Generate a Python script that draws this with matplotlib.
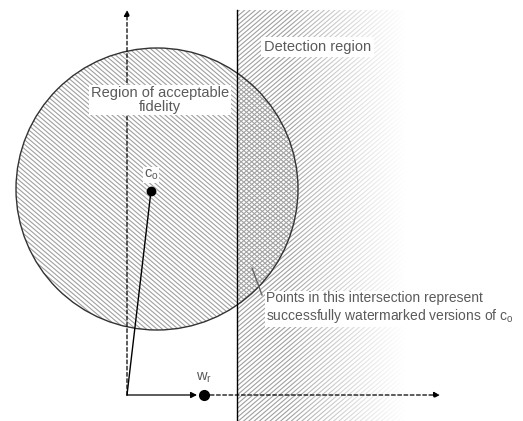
import numpy as np
import matplotlib.pyplot as plt
from matplotlib.patches import Circle, Rectangle
from matplotlib.collections import LineCollection

plt.rcParams['font.family'] = ['Liberation Sans', 'DejaVu Sans']

# geometry of the diagram, in pixels of the 523x421 image (y grows downward)
origin = (127, 395)
c0 = (151, 191)
wr = (204, 395)
circle_centre = (157, 189)
circle_radius = 141
boundary_x = 237
axis_top = 10
axis_right = 440

labels = {
    'detect': 'Detection region',
    'fidelity': 'Region of acceptable\nfidelity',
    'points': 'Points in this intersection represent\nsuccessfully watermarked versions of $\\mathregular{c_o}$',
}

txt_col = '#5a5a5a'
hatch_col = '#a0a0a0'


def hatch_lines(slope, step):
    # diagonal stripes covering the whole image, step = horizontal spacing
    xa, xb = -50, 600
    segs = []
    for b in np.arange(-800, 1200, step * abs(slope)):
        segs.append([(xa, b + slope * xa), (xb, b + slope * xb)])
    return segs


fig = plt.figure(figsize=(5.23, 4.21), dpi=100)
ax = fig.add_axes([0, 0, 1, 1])
ax.set_xlim(0, 523)
ax.set_ylim(421, 0)
ax.axis('off')

# region of acceptable fidelity
clip_c = Circle(circle_centre, circle_radius, facecolor='none', lw=0)
ax.add_patch(clip_c)
lc1 = LineCollection(hatch_lines(0.85, 5.3), colors=hatch_col, linewidths=0.8, zorder=1)
ax.add_collection(lc1)
lc1.set_clip_path(clip_c)

# detection region
clip_r = Rectangle((boundary_x, axis_top), 523 - boundary_x, 421 - axis_top,
                   facecolor='none', lw=0)
ax.add_patch(clip_r)
lc2 = LineCollection(hatch_lines(-0.85, 5.3), colors=hatch_col, linewidths=0.8, zorder=2)
ax.add_collection(lc2)
lc2.set_clip_path(clip_r)

# fade the detection hatching to white towards the right
xs = np.linspace(boundary_x, 523, 300)
alpha = np.clip((xs - 290) / (405 - 290), 0, 1) ** 0.8
fade = np.ones((2, len(xs), 4))
fade[..., 3] = alpha
ax.imshow(fade, extent=[boundary_x, 523, 421, 0], aspect='auto', zorder=3,
          interpolation='bilinear')
ax.set_xlim(0, 523)
ax.set_ylim(421, 0)

# circle outline
ax.add_patch(Circle(circle_centre, circle_radius, facecolor='none',
                    edgecolor='#333333', lw=1.0, zorder=4))

# boundary line
ax.plot([boundary_x, boundary_x], [axis_top, 421], color='black', lw=1.0, zorder=5)

# axes of the space
ax.annotate('', xy=(origin[0], axis_top), xytext=origin,
            arrowprops=dict(arrowstyle='-|>', linestyle=(0, (3, 2)), lw=0.9,
                            color='black', mutation_scale=9, shrinkA=0, shrinkB=0),
            zorder=5)
ax.annotate('', xy=(wr[0] - 7, wr[1]), xytext=origin,
            arrowprops=dict(arrowstyle='-|>', lw=0.9, color='black',
                            mutation_scale=9, shrinkA=0, shrinkB=0), zorder=5)
ax.annotate('', xy=(axis_right, wr[1]), xytext=wr,
            arrowprops=dict(arrowstyle='-|>', linestyle=(0, (3, 2)), lw=0.9,
                            color='black', mutation_scale=9, shrinkA=0, shrinkB=0),
            zorder=5)
ax.plot([origin[0], c0[0]], [origin[1], c0[1]], color='black', lw=1.0, zorder=5)

ax.plot(*c0, 'o', color='black', ms=6, zorder=6)
ax.plot(*wr, 'o', color='black', ms=7, zorder=6)

ax.text(c0[0], c0[1] - 9, '$\\mathregular{c_o}$', color=txt_col, fontsize=10.5,
        ha='center', va='bottom', zorder=7,
        bbox=dict(facecolor='white', edgecolor='none', pad=0.5))
ax.text(wr[0], wr[1] - 10, '$\\mathregular{w_r}$', color=txt_col, fontsize=10.5,
        ha='center', va='bottom', zorder=7)

ax.text(264, 47, labels['detect'], color=txt_col, fontsize=10.5, ha='left',
        va='center', zorder=7, bbox=dict(facecolor='white', edgecolor='none', pad=2))
ax.text(160, 100, labels['fidelity'], color=txt_col, fontsize=10.5, ha='center',
        va='center', zorder=7, linespacing=1.0,
        bbox=dict(facecolor='white', edgecolor='none', pad=1))

# leader to the intersection
ax.plot([252, 262], [268, 295], color='#666666', lw=1.0, zorder=7)
ax.text(266, 308, labels['points'], color=txt_col, fontsize=10, ha='left',
        va='center', zorder=7, linespacing=1.2,
        bbox=dict(facecolor='white', edgecolor='none', pad=1))

fig.savefig('out.png', dpi=100)
